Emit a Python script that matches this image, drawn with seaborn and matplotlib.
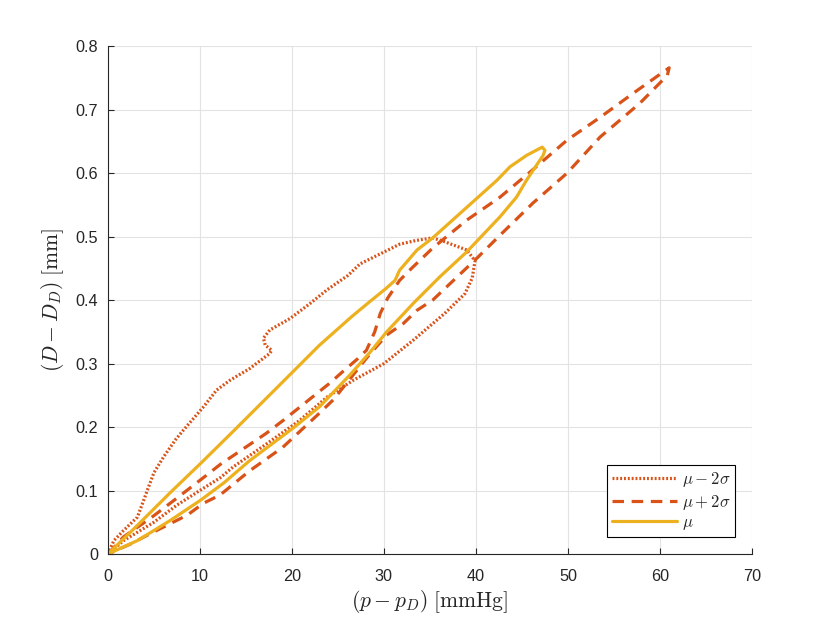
import numpy as np
import pandas as pd
import matplotlib
matplotlib.use("Agg")
import matplotlib.pyplot as plt
import seaborn as sns

# ---------------------------------------------------------------------------
# Data: closed loops, up branch then down branch
# ---------------------------------------------------------------------------
low_p = [0, 0.65, 1.7, 3.2, 3.9, 4.3, 5.0, 6.1, 7.4, 8.2, 10.4, 11.8, 13.3, 15.4,
         17.6, 17.8, 17.1, 16.9, 17.6, 19.8, 22.0, 23.8, 26.1, 27.4, 29.9, 31.7,
         33.5, 35.3, 36.4, 39.0, 39.9,
         39.6, 38.8, 36.6, 33.2, 30.0, 26.7, 23.8, 20.8, 17.2, 13.6, 12.2, 10.1,
         7.5, 5.0, 1.7, 0]
low_d = [0, 0.021, 0.037, 0.058, 0.085, 0.101, 0.128, 0.154, 0.181, 0.195, 0.232,
         0.258, 0.274, 0.292, 0.316, 0.321, 0.329, 0.340, 0.353, 0.371, 0.395,
         0.416, 0.439, 0.457, 0.475, 0.488, 0.494, 0.498, 0.493, 0.479, 0.462,
         0.435, 0.410, 0.379, 0.337, 0.300, 0.274, 0.247, 0.210, 0.173, 0.137,
         0.120, 0.101, 0.077, 0.050, 0.021, 0]

high_p = [0, 1.7, 4.6, 7.5, 10.8, 12.2, 17.2, 19.1, 24.1, 25.5, 27.1, 28.1, 29.0,
          29.6, 30.4, 31.7, 33.0, 35.3, 39.0, 42.6, 45.9, 49.9, 53.5, 57.1, 61.0,
          60.8, 57.8, 53.5, 49.9, 46.2, 42.6, 40.1, 35.3, 33.6, 32.1, 30.3, 28.3,
          24.5, 23.0, 19.0, 15.4, 12.2, 10.4, 8.6, 4.6, 2.5, 0]
high_d = [0, 0.027, 0.056, 0.088, 0.125, 0.141, 0.190, 0.211, 0.269, 0.287, 0.307,
          0.321, 0.350, 0.379, 0.403, 0.431, 0.450, 0.482, 0.526, 0.562, 0.602,
          0.652, 0.688, 0.726, 0.766,
          0.754, 0.710, 0.657, 0.600, 0.553, 0.502, 0.466, 0.400, 0.384, 0.363,
          0.345, 0.312, 0.243, 0.222, 0.168, 0.131, 0.093, 0.080, 0.061, 0.032,
          0.016, 0]

mean_p = [0, 3.2, 6.8, 10.1, 13.6, 20.1, 23.0, 26.5, 28.5, 30.2, 31.2, 31.7, 33.6,
          35.3, 38.3, 42.3, 43.7, 45.5, 47.2, 47.5,
          47.3, 45.5, 44.4, 42.6, 39.0, 36.1, 33.2, 30.3, 28.5, 26.3, 23.0, 20.1,
          15.4, 12.6, 10.1, 6.8, 3.2, 0]
mean_d = [0, 0.045, 0.097, 0.143, 0.193, 0.287, 0.329, 0.374, 0.398, 0.418, 0.431,
          0.447, 0.479, 0.498, 0.537, 0.589, 0.610, 0.628, 0.641, 0.636,
          0.628, 0.589, 0.562, 0.531, 0.476, 0.437, 0.395, 0.350, 0.318, 0.282,
          0.232, 0.198, 0.147, 0.112, 0.085, 0.053, 0.021, 0]

labels = [r"$\mu - 2\sigma$", r"$\mu + 2\sigma$", r"$\mu$"]

ORANGE = "#D95319"
YELLOW = "#EDB120"
AX_COLOR = "#262626"

sns.set_theme(style="whitegrid")
plt.rcParams.update({
    "font.family": ["Liberation Sans", "DejaVu Sans"],
    "mathtext.fontset": "cm",
    "axes.edgecolor": AX_COLOR,
    "grid.color": "#e3e3e3",
    "grid.linewidth": 0.8,
})

fig = plt.figure(figsize=(8.30, 6.23), dpi=100)
ax = fig.add_axes([0.130, 0.1108, 0.776, 0.815])

series = [
    (low_p, low_d, labels[0], ORANGE, (0, (0.6, 0.6))),
    (high_p, high_d, labels[1], ORANGE, (0, (3.6, 2.4))),
    (mean_p, mean_d, labels[2], YELLOW, "-"),
]
for xs, ys, lab, col, ls in series:
    df = pd.DataFrame({"p": xs, "d": ys})
    sns.lineplot(data=df, x="p", y="d", sort=False, estimator=None, ax=ax,
                 color=col, linewidth=2.3, linestyle=ls, label=lab)

ax.set_xlim(0, 70)
ax.set_ylim(0, 0.8)
ax.set_xticks(np.arange(0, 71, 10))
ax.set_yticks(np.arange(0, 0.81, 0.1))
ax.set_xticklabels([f"{v:g}" for v in np.arange(0, 71, 10)])
ax.set_yticklabels([f"{v:g}" for v in np.round(np.arange(0, 0.81, 0.1), 1)])

ax.set_facecolor("white")
for side in ["top", "right"]:
    ax.spines[side].set_visible(False)
for side in ["left", "bottom"]:
    ax.spines[side].set_color(AX_COLOR)
    ax.spines[side].set_linewidth(0.8)
ax.tick_params(direction="in", length=4, width=0.8, colors=AX_COLOR,
               labelsize=11.7, bottom=True, left=True)
ax.tick_params(axis="x", pad=11)
ax.tick_params(axis="y", pad=7)
ax.grid(True, which="major")

ax.set_xlabel(r"$(p - p_D)\ [\mathrm{mmHg}]$", fontsize=15.5, color=AX_COLOR, labelpad=3)
ax.set_ylabel(r"$(D - D_D)\ [\mathrm{mm}]$", fontsize=15.5, color=AX_COLOR, labelpad=7)

leg = ax.legend(loc="lower right", fontsize=12, frameon=True, fancybox=False,
                edgecolor="black", framealpha=1, handlelength=3.9,
                labelspacing=0.22, borderaxespad=1.0, borderpad=0.3,
                handletextpad=0.3)
leg.get_frame().set_linewidth(0.8)

fig.savefig("out.png", dpi=100, facecolor="white")
